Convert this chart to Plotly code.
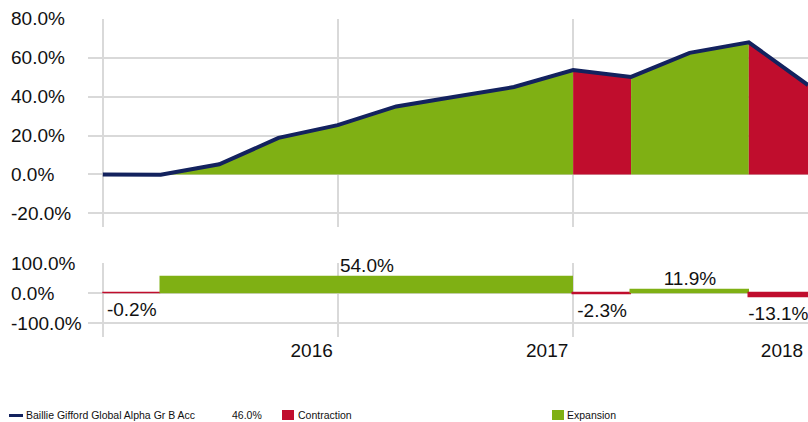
import plotly.graph_objects as go
import pandas as pd

# ---- data ----
dates = ["2015-01-01", "2015-04-01", "2015-07-01", "2015-10-01", "2016-01-01",
         "2016-04-01", "2016-07-01", "2016-10-01", "2017-01-01", "2017-04-01",
         "2017-07-01", "2017-10-01", "2018-01-01"]
values = [0.0, -0.2, 5.2, 18.8, 25.4, 35.0, 40.0, 45.0, 53.7, 50.2, 62.6, 68.0, 46.0]

phase_start = [0, 1, 8, 9, 11]
phase_end = [1, 8, 9, 11, 12]
phase_change = [-0.2, 54.0, -2.3, 11.9, -13.1]
phase_type = ["Contraction", "Expansion", "Contraction", "Expansion", "Contraction"]

series_name = "Baillie Gifford Global Alpha Gr B Acc"
last_value_label = "46.0%"

year_ticks = ["2015-01-01", "2016-01-01", "2017-01-01", "2018-01-01"]
year_labels = ["", "2016", "2017", "2018"]
top_ticks = [-20, 0, 20, 40, 60, 80]
bottom_ticks = [-100, 0, 100]

# ---- style ----
GREEN = "#7FB014"
RED = "#C00D2D"
NAVY = "#13225E"
GRID = "#D9D9D9"
FONT = "Liberation Sans, Arial, sans-serif"
TXT = "#111111"
colors = {"Contraction": RED, "Expansion": GREEN}

fig = go.Figure()

# top: shaded areas per phase
for s, e, t in zip(phase_start, phase_end, phase_type):
    fig.add_trace(go.Scatter(
        x=dates[s:e + 1], y=values[s:e + 1], mode="lines", fill="tozeroy",
        fillcolor=colors[t], line=dict(width=0, color=colors[t]),
        xaxis="x", yaxis="y", showlegend=False, hoverinfo="skip"))

fig.add_trace(go.Scatter(
    x=dates, y=values, mode="lines", line=dict(color=NAVY, width=4),
    xaxis="x", yaxis="y", showlegend=False, name=series_name))

# bottom: phase bars
d = pd.to_datetime(dates)
bx, bw, by, bc, bt, bpos, bsize = [], [], [], [], [], [], []
for s, e, c, t in zip(phase_start, phase_end, phase_change, phase_type):
    start, end = d[s], d[e]
    bx.append(start + (end - start) / 2)
    bw.append((end - start).total_seconds() * 1000)
    by.append(c)
    bc.append(colors[t])
    bt.append(f"{c:.1f}%")
    bpos.append("top center" if c >= 0 else "bottom center")
    bsize.append(0 if c >= 0 else 12)

fig.add_trace(go.Bar(
    x=bx, y=by, width=bw, marker=dict(color=bc, line=dict(color=bc, width=1.5)),
    xaxis="x2", yaxis="y2", showlegend=False, hoverinfo="skip"))

fig.add_trace(go.Scatter(
    x=bx, y=by, mode="markers+text", text=bt, textposition=bpos, cliponaxis=False,
    marker=dict(size=bsize, opacity=0),
    textfont=dict(family=FONT, size=19, color=TXT),
    xaxis="x2", yaxis="y2", showlegend=False, hoverinfo="skip"))

W, H = 808, 422
L = 88
xr = ["2014-12-09", "2018-01-01"]

fig.update_layout(
    width=W, height=H,
    margin=dict(l=L, r=0, t=0, b=0),
    paper_bgcolor="white", plot_bgcolor="white",
    font=dict(family=FONT, size=19, color=TXT),
    showlegend=False,
    bargap=0,
    xaxis=dict(domain=[0, 1], anchor="y", type="date", range=xr,
               tickvals=year_ticks, showticklabels=False, showgrid=True,
               gridcolor=GRID, gridwidth=2, zeroline=False, showline=False, ticks=""),
    yaxis=dict(domain=[1 - 227.3 / H, 1 - 19 / H], anchor="x", range=[-27.2, 80],
               tickvals=top_ticks, showticklabels=False, showgrid=True,
               gridcolor=GRID, gridwidth=2, zeroline=False, showline=False, ticks=""),
    xaxis2=dict(domain=[0, 1], anchor="y2", type="date", range=xr, matches="x",
                tickvals=year_ticks, ticktext=year_labels, showgrid=True,
                gridcolor=GRID, gridwidth=2, zeroline=False, showline=False, ticks="",
                ticklabelshift=-26,
                tickfont=dict(family=FONT, size=19, color=TXT)),
    yaxis2=dict(domain=[1 - 337 / H, 1 - 263.3 / H], anchor="x2", range=[-145, 100],
                tickvals=bottom_ticks, showticklabels=False, showgrid=True,
                gridcolor=GRID, gridwidth=2, zeroline=False, showline=False, ticks=""),
)

# left-aligned y tick labels
px_x = (9 - L) / (W - L)
ann = []
for v in top_ticks:
    ann.append(dict(x=px_x, xref="paper", y=v, yref="y", text=f"{v:.1f}%",
                    xanchor="left", yanchor="middle", showarrow=False,
                    font=dict(family=FONT, size=19, color=TXT)))
for v in bottom_ticks:
    ann.append(dict(x=px_x, xref="paper", y=v, yref="y2", text=f"{v:.1f}%",
                    xanchor="left", yanchor="middle", showarrow=False,
                    font=dict(family=FONT, size=19, color=TXT)))

# legend (manual)
def pxx(p):
    return (p - L) / (W - L)

ly = 1 - 415 / H
lfont = dict(family=FONT, size=10.5, color=TXT)
ann.append(dict(x=pxx(24), xref="paper", y=ly, yref="paper", text=series_name,
                xanchor="left", yanchor="middle", showarrow=False, font=lfont))
ann.append(dict(x=pxx(230), xref="paper", y=ly, yref="paper", text=last_value_label,
                xanchor="left", yanchor="middle", showarrow=False, font=lfont))
ann.append(dict(x=pxx(296), xref="paper", y=ly, yref="paper", text="Contraction",
                xanchor="left", yanchor="middle", showarrow=False, font=lfont))
ann.append(dict(x=pxx(565), xref="paper", y=ly, yref="paper", text="Expansion",
                xanchor="left", yanchor="middle", showarrow=False, font=lfont))
fig.update_layout(annotations=ann)

shapes = [
    dict(type="rect", xref="paper", yref="paper", x0=pxx(9), x1=pxx(23),
         y0=1 - 417 / H, y1=1 - 414 / H, fillcolor=NAVY, line=dict(width=0)),
    dict(type="rect", xref="paper", yref="paper", x0=pxx(282), x1=pxx(294),
         y0=1 - 420 / H, y1=1 - 410 / H, fillcolor=RED, line=dict(width=0)),
    dict(type="rect", xref="paper", yref="paper", x0=pxx(552), x1=pxx(564),
         y0=1 - 420 / H, y1=1 - 410 / H, fillcolor=GREEN, line=dict(width=0)),
]
fig.update_layout(shapes=shapes)

fig.write_html("out.html",
               config={"displayModeBar": False},
               post_script="document.body.style.margin='0px';"
                           "document.body.style.overflow='hidden';")
